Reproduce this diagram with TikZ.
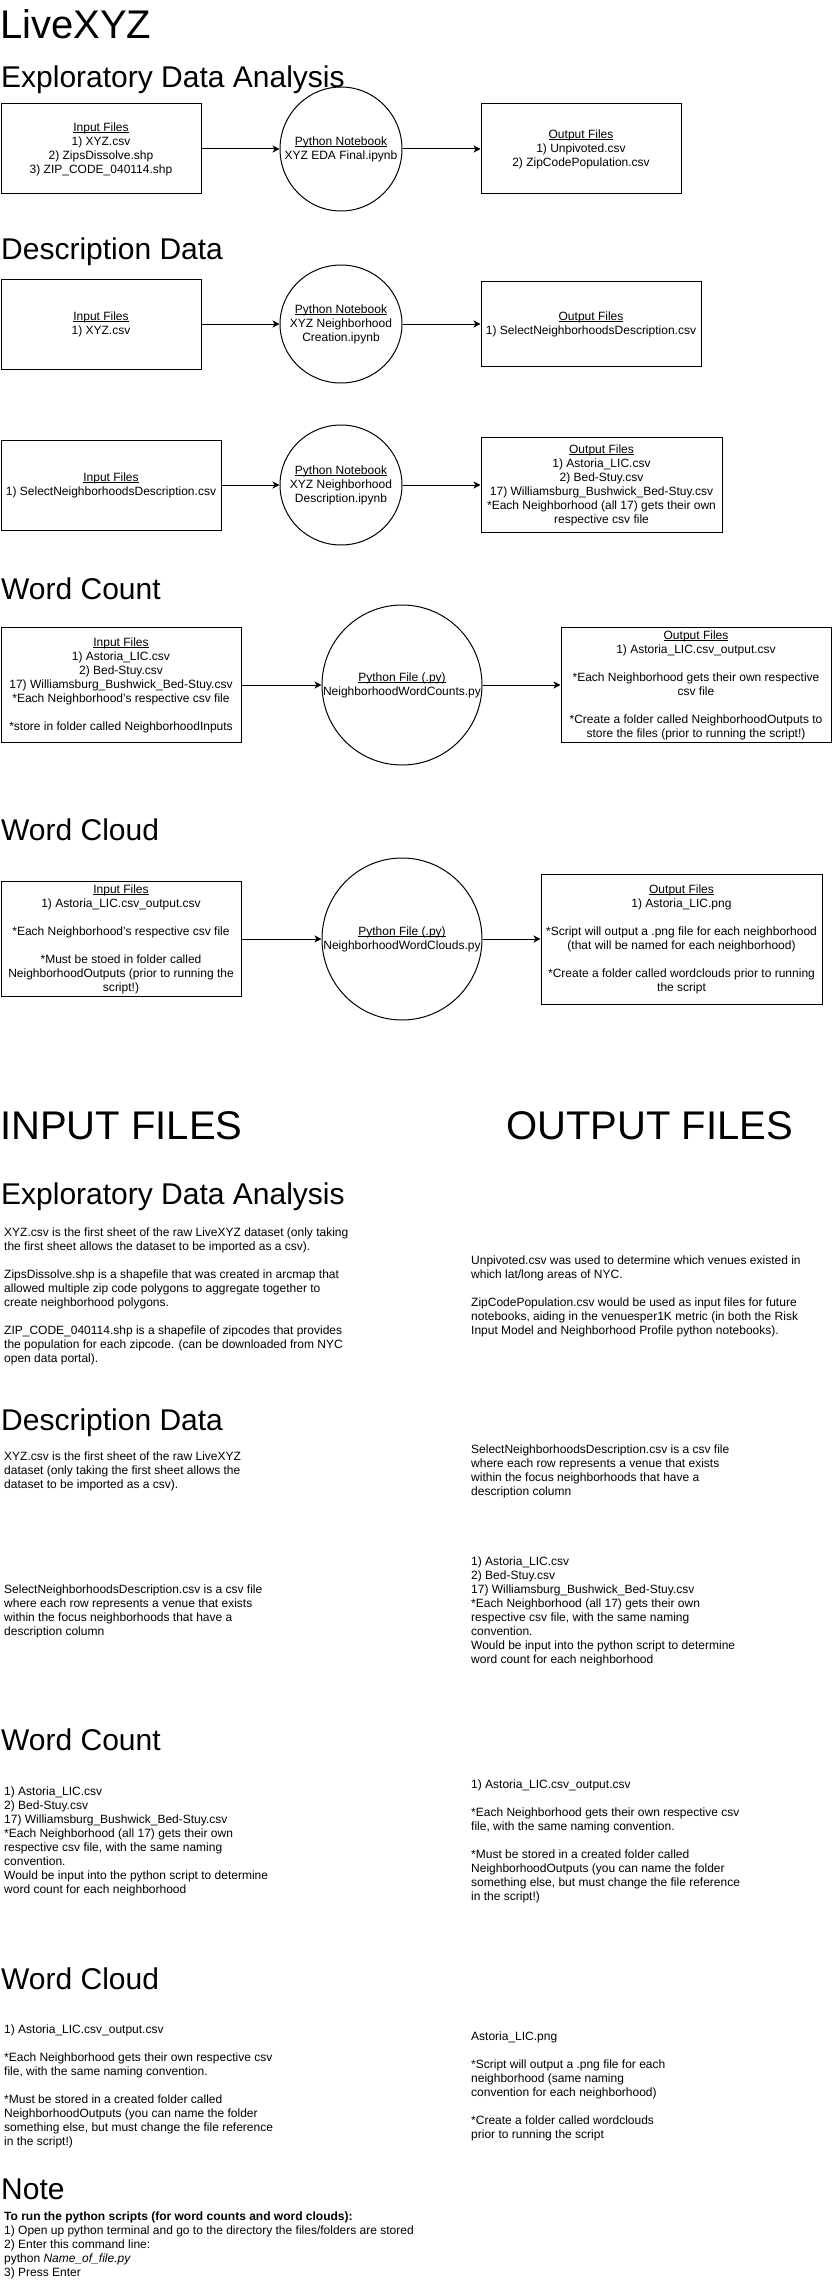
\documentclass[tikz,border=0pt]{standalone}
\usepackage{fontspec}
\setmainfont{Liberation Sans}
\usetikzlibrary{shapes.geometric,arrows.meta}
\newsavebox\ulbox
\newcommand\myul[1]{\sbox\ulbox{#1}\rlap{\rule[-1.6pt]{\wd\ulbox}{0.7pt}}\usebox\ulbox}
\newcommand\bodyfont{\fontsize{12}{14}\selectfont}
\begin{document}
\begin{tikzpicture}[x=1pt,y=-1pt,
  tforty/.style={anchor=base west, inner sep=0pt, font=\fontsize{40}{48}\selectfont},
  tthirty/.style={anchor=base west, inner sep=0pt, font=\fontsize{30}{36}\selectfont},
  fbox/.style={draw, line width=1pt, inner sep=0pt, align=center, font=\bodyfont},
  ell/.style={draw, ellipse, line width=1pt, inner sep=0pt},
  lbl/.style={inner sep=0pt, align=center, font=\bodyfont},
  txt/.style={anchor=north west, inner sep=0pt, align=left, font=\bodyfont},
  arr/.style={line width=1pt, -{Stealth[length=7pt,width=7pt,inset=2pt]}}]
\fill[white] (0,0) rectangle (832,2285);
\useasboundingbox (0,0) rectangle (832,2285);

% ---------- titles ----------
\node[tforty] (title) at (0,38.3) {LiveXYZ};
\node[tthirty] (h1) at (1,87.3) {Exploratory Data Analysis};
\node[tthirty] (h2) at (1,259.3) {Description Data};
\node[tthirty] (h3) at (1,599) {Word Count};
\node[tthirty] (h4) at (1,840) {Word Cloud};

% ---------- row 1 ----------
\node[fbox, minimum width=200pt, minimum height=90pt] (in1) at (101,149)
  {\myul{Input Files}\\1) XYZ.csv\\2) ZipsDissolve.shp\\3) ZIP\_CODE\_040114.shp};
\node[ell, minimum width=122pt, minimum height=124pt] (py1) at (341,149) {};
\node[lbl] (py1t) at (py1.center) {\myul{Python Notebook}\\XYZ EDA Final.ipynb};
\node[fbox, minimum width=200pt, minimum height=90pt] (out1) at (581,149)
  {\myul{Output Files}\\1) Unpivoted.csv\\2) ZipCodePopulation.csv};
\draw[arr] (in1.east) -- (py1.west);
\draw[arr] (py1.east) -- (out1.west);

% ---------- row 2 ----------
\node[fbox, minimum width=200pt, minimum height=90pt] (in2) at (101,324)
  {\myul{Input Files}\\1) XYZ.csv};
\node[ell, minimum width=122pt, minimum height=118pt] (py2) at (341,324) {};
\node[lbl] (py2t) at (py2.center) {\myul{Python Notebook}\\XYZ Neighborhood\\Creation.ipynb};
\node[fbox, minimum width=220pt, minimum height=85pt] (out2) at (591,324)
  {\myul{Output Files}\\1) SelectNeighborhoodsDescription.csv};
\draw[arr] (in2.east) -- (py2.west);
\draw[arr] (py2.east) -- (out2.west);

% ---------- row 3 ----------
\node[fbox, minimum width=220pt, minimum height=90pt] (in3) at (111,485)
  {\myul{Input Files}\\1) SelectNeighborhoodsDescription.csv};
\node[ell, minimum width=122pt, minimum height=120pt] (py3) at (341,485) {};
\node[lbl] (py3t) at (py3.center) {\myul{Python Notebook}\\XYZ Neighborhood\\Description.ipynb};
\node[fbox, minimum width=241pt, minimum height=95pt] (out3) at (601.5,485)
  {\myul{Output Files}\\1) Astoria\_LIC.csv\\2) Bed-Stuy.csv\\17) Williamsburg\_Bushwick\_Bed-Stuy.csv\\*Each Neighborhood (all 17) gets their own\\respective csv file};
\draw[arr] (in3.east) -- (py3.west);
\draw[arr] (py3.east) -- (out3.west);

% ---------- row 4 ----------
\node[fbox, minimum width=240pt, minimum height=115pt] (in4) at (121,685)
  {\myul{Input Files}\\1) Astoria\_LIC.csv\\2) Bed-Stuy.csv\\17) Williamsburg\_Bushwick\_Bed-Stuy.csv\\*Each Neighborhood's respective csv file\\[14pt]*store in folder called NeighborhoodInputs};
\node[ell, minimum width=160pt, minimum height=160pt] (py4) at (402,685) {};
\node[lbl] (py4t) at (py4.center) {\myul{Python File (.py)}\\NeighborhoodWordCounts.py};
\node[fbox, minimum width=270pt, minimum height=115pt] (out4) at (696,685)
  {\myul{Output Files}\\1) Astoria\_LIC.csv\_output.csv\\[14pt]*Each Neighborhood gets their own respective\\csv file\\[14pt]*Create a folder called NeighborhoodOutputs to\\store the files (prior to running the script!)};
\draw[arr] (in4.east) -- (py4.west);
\draw[arr] (py4.east) -- (out4.west);

% ---------- row 5 ----------
\node[fbox, minimum width=240pt, minimum height=115pt] (in5) at (121,939)
  {\myul{Input Files}\\1) Astoria\_LIC.csv\_output.csv\\[14pt]*Each Neighborhood's respective csv file\\[14pt]*Must be stoed in folder called\\NeighborhoodOutputs (prior to running the\\script!)};
\node[ell, minimum width=160pt, minimum height=162pt] (py5) at (402,939) {};
\node[lbl] (py5t) at (py5.center) {\myul{Python File (.py)}\\NeighborhoodWordClouds.py};
\node[fbox, minimum width=281pt, minimum height=130pt] (out5) at (681.5,939)
  {\myul{Output Files}\\1) Astoria\_LIC.png\\[14pt]*Script will output a .png file for each neighborhood\\(that will be named for each neighborhood)\\[14pt]*Create a folder called wordclouds prior to running\\the script};
\draw[arr] (in5.east) -- (py5.west);
\draw[arr] (py5.east) -- (out5.west);

% ---------- lower half ----------
\node[tforty] (inhead) at (0,1139.3) {INPUT FILES};
\node[tforty] (outhead) at (506,1139.3) {OUTPUT FILES};

\node[tthirty] (s1) at (1,1204) {Exploratory Data Analysis};
\node[txt] (s1l) at (4,1226.2) {\strut XYZ.csv is the first sheet of the raw LiveXYZ dataset (only taking\\the first sheet allows the dataset to be imported as a csv).\\[14pt]ZipsDissolve.shp is a shapefile that was created in arcmap that\\allowed multiple zip code polygons to aggregate together to\\create neighborhood polygons.\\[14pt]ZIP\_CODE\_040114.shp is a shapefile of zipcodes that provides\\the population for each zipcode. (can be downloaded from NYC\\open data portal).};
\node[txt] (s1r) at (471,1254.2) {\strut Unpivoted.csv was used to determine which venues existed in\\which lat/long areas of NYC.\\[14pt]ZipCodePopulation.csv would be used as input files for future\\notebooks, aiding in the venuesper1K metric (in both the Risk\\Input Model and Neighborhood Profile python notebooks).};

\node[tthirty] (s2) at (1,1430) {Description Data};
\node[txt] (s2l) at (4,1450.2) {\strut XYZ.csv is the first sheet of the raw LiveXYZ\\dataset (only taking the first sheet allows the\\dataset to be imported as a csv).};
\node[txt] (s2r) at (471,1443.2) {\strut SelectNeighborhoodsDescription.csv is a csv file\\where each row represents a venue that exists\\within the focus neighborhoods that have a\\description column};
\node[txt] (s2l2) at (4,1583.2) {\strut SelectNeighborhoodsDescription.csv is a csv file\\where each row represents a venue that exists\\within the focus neighborhoods that have a\\description column};
\node[txt] (s2r2) at (471,1555.2) {\strut 1) Astoria\_LIC.csv\\2) Bed-Stuy.csv\\17) Williamsburg\_Bushwick\_Bed-Stuy.csv\\*Each Neighborhood (all 17) gets their own\\respective csv file, with the same naming\\convention.\\Would be input into the python script to determine\\word count for each neighborhood};

\node[tthirty] (s3) at (1,1750) {Word Count};
\node[txt] (s3l) at (4,1785) {\strut 1) Astoria\_LIC.csv\\2) Bed-Stuy.csv\\17) Williamsburg\_Bushwick\_Bed-Stuy.csv\\*Each Neighborhood (all 17) gets their own\\respective csv file, with the same naming\\convention.\\Would be input into the python script to determine\\word count for each neighborhood};
\node[txt] (s3r) at (471,1778.2) {\strut 1) Astoria\_LIC.csv\_output.csv\\[14pt]*Each Neighborhood gets their own respective csv\\file, with the same naming convention.\\[14pt]*Must be stored in a created folder called\\NeighborhoodOutputs (you can name the folder\\something else, but must change the file reference\\in the script!)};

\node[tthirty] (s4) at (1,1989.3) {Word Cloud};
\node[txt] (s4l) at (4,2023.5) {\strut 1) Astoria\_LIC.csv\_output.csv\\[14pt]*Each Neighborhood gets their own respective csv\\file, with the same naming convention.\\[14pt]*Must be stored in a created folder called\\NeighborhoodOutputs (you can name the folder\\something else, but must change the file reference\\in the script!)};
\node[txt] (s4r) at (471,2030.2) {\strut Astoria\_LIC.png\\[14pt]*Script will output a .png file for each\\neighborhood (same naming\\convention for each neighborhood)\\[14pt]*Create a folder called wordclouds\\prior to running the script};

\node[tthirty] (s5) at (1,2199.3) {Note};
\node[txt] (s5t) at (4,2210.9) {\strut\textbf{To run the python scripts (for word counts and word clouds):}\\1) Open up python terminal and go to the directory the files/folders are stored\\2) Enter this command line:\\python \textit{Name\_of\_file.py}\\3) Press Enter};
\end{tikzpicture}
\end{document}
